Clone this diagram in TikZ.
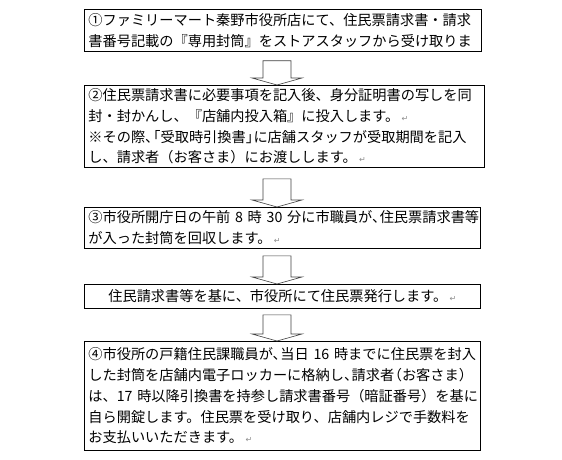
\documentclass[tikz,border=0pt]{standalone}
\usepackage{fontspec}
\usepackage{xcolor}
\usepackage{tikz}
\usetikzlibrary{positioning,calc}
\newfontfamily\jpfont{Noto Sans CJK JP}
\newfontfamily\markfont{DejaVu Sans}
\newcommand{\pmark}{\,{\markfont\color{black!45}\fontsize{8pt}{8pt}\selectfont ↵}}
\newcommand{\hw}{\kern-6.5pt}
\newcommand{\tline}[1]{\mbox{#1}}
\newcommand{\blockarrow}[2]{%
  \draw[flowarrow] ($#1+(-14,0)$) -- ($#1+(14,0)$) -- ($#2+(14,-7)$) -- ($#2+(25,-7)$)
    -- #2 -- ($#2+(-25,-7)$) -- ($#2+(-14,-7)$) -- cycle;}

\begin{document}
\begin{tikzpicture}[
    x=1pt, y=-1pt,
    box/.style={rectangle, draw, line width=0.8pt, anchor=north west, inner xsep=4pt, inner ysep=0pt,
      text width=#1, align=left, font={\jpfont\fontsize{14.2pt}{20.7pt}\selectfont}},
    box/.default=389pt,
    flowarrow/.style={draw=black!75, line width=0.6pt, fill=white, line join=miter}
]
    \useasboundingbox (0,0) rectangle (562,460);
    \coordinate (axis) at (277,0);

    \node[box, minimum height=42pt] (step1) at (84,9) {\tline{①ファミリーマート秦野市役所店にて、住民票請求書・請求}\\\tline{書番号記載の『専用封筒』をストアスタッフから受け取りま}};
    \node[box=392pt, minimum height=82pt] (step2) at (84,85) {\tline{②住民票請求書に必要事項を記入後、身分証明書の写しを同}\\\tline{封・封かんし、『店舗内投入箱』に投入します。\pmark}\\\tline{※その際、\hw\hw「受取時引換書」\hw に店舗スタッフが受取期間を記入}\\\tline{し、請求者（お客さま）にお渡しします。\pmark}};
    \node[box=388pt, minimum height=41pt] (step3) at (84,207) {\tline{③市役所開庁日の午前 8 時 30 分に市職員が、\hw 住民票請求書等}\\\tline{が入った封筒を回収します。\pmark}};
    \node[box=388pt, minimum height=24pt, align=center] (step4) at (84,284) {\tline{住民請求書等を基に、市役所にて住民票発行します。\pmark}};
    \node[box=388pt, minimum height=109pt] (step5) at (84,341) {\tline{④市役所の戸籍住民課職員が、\hw 当日 16 時までに住民票を封入}\\\tline{した封筒を店舗内電子ロッカーに格納し、\hw 請求者\hw（お客さま）}\\\tline{は、17 時以降引換書を持参し請求書番号（暗証番号）を基に}\\\tline{自ら開錠します。住民票を受け取り、店舗内レジで手数料を}\\\tline{お支払いいただきます。\pmark}};

    \blockarrow{($(axis |- step1.south)+(0,9)$)}{(axis |- step2.north)}
    \blockarrow{($(axis |- step2.south)+(0,11)$)}{(axis |- step3.north)}
    \blockarrow{($(axis |- step3.south)+(0,7)$)}{(axis |- step4.north)}
    \blockarrow{($(axis |- step4.south)+(0,6)$)}{(axis |- step5.north)}
\end{tikzpicture}
\end{document}
